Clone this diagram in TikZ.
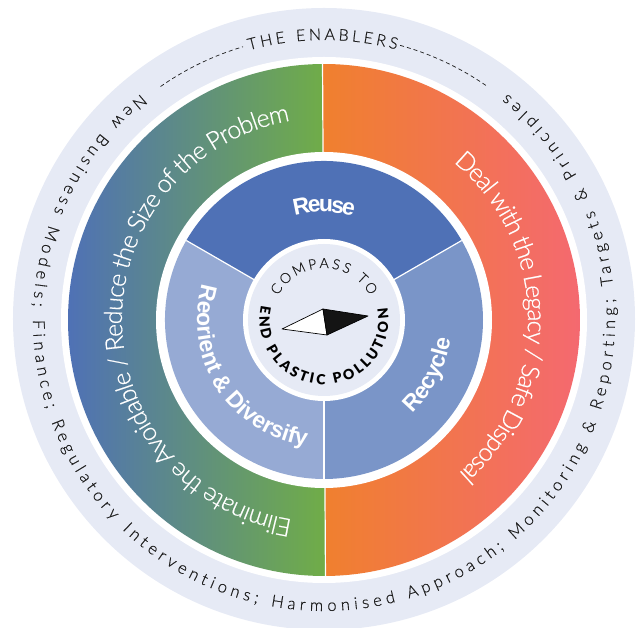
\documentclass[tikz,border=0pt]{standalone}
\usepackage{fontspec}
\setmainfont[Ligatures=CommonOff]{Lato}
\newfontfamily\lightf[UprightFont=* Light,Ligatures=CommonOff,FakeBold=0.6]{Lato}
\newfontfamily\boldf[Ligatures=CommonOff,BoldFont=*]{Liberation Sans Bold}
\newfontfamily\blackf[UprightFont=* Black,Ligatures=CommonOff]{Lato}
\definecolor{ringbg}{HTML}{E6EAF5}
\definecolor{reusec}{HTML}{4F71B6}
\definecolor{recyc}{HTML}{7A95C8}
\definecolor{reorc}{HTML}{96AAD4}
\definecolor{inkc}{HTML}{1E1E1E}
\newcommand{\fOuter}{\lightf\fontsize{16.5}{16.5}\selectfont\color{inkc}}
\newcommand{\fEnab}{\lightf\fontsize{16}{16}\selectfont\color{inkc}}
\newcommand{\fRing}{\lightf\fontsize{25}{25}\selectfont\color{white}}
\newcommand{\fSeg}{\boldf\fontsize{23}{23}\selectfont\color{white}}
\newcommand{\fCompass}{\lightf\fontsize{14}{14}\selectfont\color{inkc}}
\newcommand{\fEnd}{\blackf\fontsize{14}{14}\selectfont\color{black}}
\newcommand{\placechar}[5]{\node[anchor=base,inner sep=0pt,rotate=#3] at (#2:#1) {#4#5};}
\ExplSyntaxOn
\int_new:N \l_an_int
\int_new:N \l_ai_int
\fp_new:N \l_agap_fp
\fp_new:N \l_asign_fp
\fp_new:N \l_aw_fp
\fp_new:N \l_ae_fp
\tl_new:N \l_ath_tl
\tl_new:N \l_arot_tl
\tl_new:N \l_apre_tl
\box_new:N \l_ach_box
\NewDocumentCommand{\arctext}{mmmmm}{
  \int_set:Nn \l_an_int {\str_count:n {#5}}
  \int_zero:N \l_ai_int
  \tl_clear:N \l_apre_tl
  \hbox_set:Nn \l_ach_box {\pgfinterruptpicture #1 \tl_to_str:n {#5} \endpgfinterruptpicture}
  \fp_set:Nn \l_asign_fp {sign(#4-(#3))}
  \fp_set:Nn \l_agap_fp {((#2)*abs(#4-(#3))*pi/180-\dim_to_fp:n{\box_wd:N \l_ach_box})/(\int_use:N \l_an_int -1)}
  \str_map_inline:nn {#5} {
    \hbox_set:Nn \l_ach_box {\pgfinterruptpicture #1 ##1 \endpgfinterruptpicture}
    \fp_set:Nn \l_aw_fp {\dim_to_fp:n{\box_wd:N \l_ach_box}}
    \tl_put_right:Nn \l_apre_tl {##1}
    \hbox_set:Nn \l_ach_box {\pgfinterruptpicture #1 \l_apre_tl \endpgfinterruptpicture}
    \fp_set:Nn \l_ae_fp {\dim_to_fp:n{\box_wd:N \l_ach_box}-\l_aw_fp/2+\l_agap_fp*\int_use:N \l_ai_int}
    \tl_set:Nx \l_ath_tl {\fp_eval:n {round((#3)+\l_asign_fp*\l_ae_fp/(#2)*180/pi,3)}}
    \tl_set:Nx \l_arot_tl {\fp_eval:n {round(\l_ath_tl+\l_asign_fp*90,3)}}
    \placechar{#2}{\l_ath_tl}{\l_arot_tl}{#1}{##1}
    \int_incr:N \l_ai_int
  }
}
\ExplSyntaxOff
\begin{document}
\begin{tikzpicture}[x=1pt,y=1pt,
  divider/.style={draw=white,line width=1.2pt},
  dashline/.style={draw=inkc,line width=0.7pt,dash pattern=on 4pt off 3pt}]
\useasboundingbox (-324,-308) rectangle (313,320);
\begin{scope}
\clip (-324,-308) rectangle (313,320);
\fill[ringbg] (0,1) circle[radius=311];
\end{scope}
\fill[white] (0,0) circle[radius=263];
% gradient half rings
\shade[left color=reusec,right color={rgb,255:red,112;green,173;blue,71}] (90.33:256) arc[start angle=90.33,end angle=270.33,radius=256] -- cycle;
\shade[left color={rgb,255:red,240;green,128;blue,46},right color={rgb,255:red,244;green,105;blue,112}] (-89.67:256) arc[start angle=-89.67,end angle=90.33,radius=256] -- cycle;
\draw[divider] (90.33:256) -- (270.33:256);
\fill[white] (0,0) circle[radius=168];
% segments
\fill[reusec] (0,0) -- (30:159) arc[start angle=30,end angle=150,radius=159] -- cycle;
\fill[recyc] (0,0) -- (-90:159) arc[start angle=-90,end angle=30,radius=159] -- cycle;
\fill[reorc] (0,0) -- (150:159) arc[start angle=150,end angle=270,radius=159] -- cycle;
\draw[divider] (0,0) -- (30:159);
\draw[divider] (0,0) -- (150:159);
\draw[divider] (0,0) -- (-90:159);
% hub
\fill[white] (0,0) circle[radius=81];
\fill[ringbg] (0,0) circle[radius=76];
% needle
\coordinate (nl) at (-42,-9);
\coordinate (nt) at (-1,11);
\coordinate (nb) at (3,-15);
\coordinate (nr) at (44,4);
\draw[fill=white,draw=black,line width=0.7pt,line join=round] (nl) -- (nt) -- (nb) -- cycle;
\draw[fill=black!92,draw=black,line width=0.7pt,line join=round] (nt) -- (nr) -- (nb) -- cycle;
% dashes
\draw[dashline] (125:285) arc[start angle=125,end angle=106.5,radius=285];
\draw[dashline] (74.5:285) arc[start angle=74.5,end angle=55,radius=285];
% texts
\arctext{\fEnab}{280}{105.5}{75}{THE ENABLERS}
\arctext{\fOuter}{291}{129}{411}{New Business Models; Finance; Regulatory Interventions; Harmonised Approach; Monitoring & Reporting; Targets & Principles}
\arctext{\fRing}{202}{261}{99.6}{Eliminate the Avoidable / Reduce the Size of the Problem}
\arctext{\fRing}{204}{50.6}{-48.7}{Deal with the Legacy / Safe Disposal}
\arctext{\fSeg}{108}{105.8}{74.2}{Reuse}
\arctext{\fSeg}{128}{-46.5}{-8.5}{Recycle}
\arctext{\fSeg}{127}{163.5}{262}{Reorient & Diversify}
\arctext{\fCompass}{52}{152}{28}{COMPASS TO}
\arctext{\fEnd}{64.5}{167}{370.6}{END PLASTIC POLLUTION}
\end{tikzpicture}
\end{document}
